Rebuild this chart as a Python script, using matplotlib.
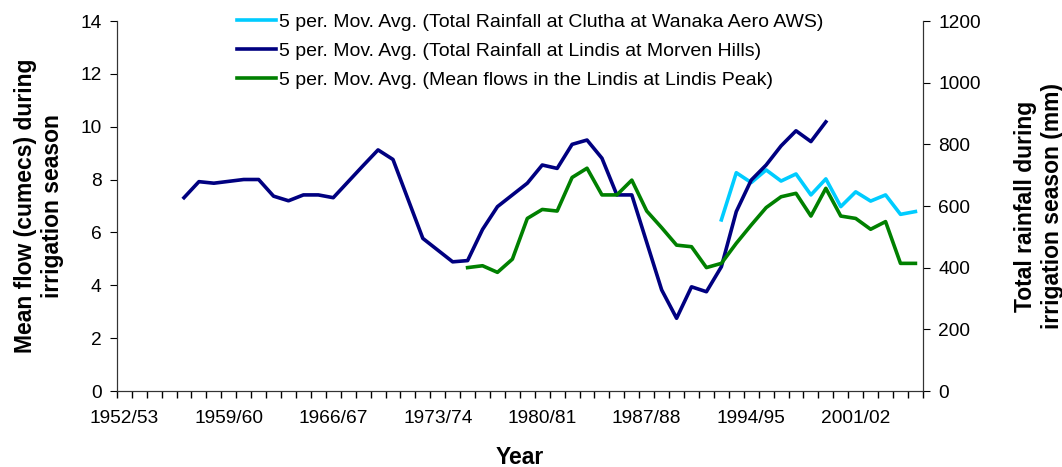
import numpy as np
import matplotlib
matplotlib.use("Agg")
import matplotlib.pyplot as plt

plt.rcParams['font.family'] = ['Liberation Sans', 'DejaVu Sans']

# Seasons on the category axis (1952/53 .. 2005/06)
SEASONS = [f"{y}/{str(y + 1)[-2:]}" for y in range(1952, 2006)]
LABEL_EVERY = 7

# Lindis at Morven Hills rainfall, 5 per. mov. avg (mm) - starts 1956/57
MORVEN_START = 4
MORVEN_RAIN = [627, 679, 674, 680, 686, 686, 632, 617, 636, 636, 627, 679, 731,
               782, 751, 623, 495, 457, 419, 423, 524, 598, 636, 674, 733, 722,
               800, 814, 755, 636, 636, 482, 328, 236, 338, 322, 403, 582, 684,
               733, 795, 844, 809, 873]

# Clutha at Wanaka Aero AWS rainfall, 5 per. mov. avg (mm) - starts 1992/93
WANAKA_START = 40
WANAKA_RAIN = [555, 708, 676, 717, 681, 704, 636, 688, 598, 646, 616, 636, 573, 582]

# Mean flows in the Lindis at Lindis Peak, 5 per. mov. avg (cumecs) - starts 1975/76
LINDIS_START = 23
LINDIS_FLOW = [4.67, 4.74, 4.49, 4.99, 6.53, 6.87, 6.81, 8.08, 8.43, 7.42, 7.42,
               7.98, 6.81, 6.18, 5.52, 5.46, 4.67, 4.83, 5.59, 6.28, 6.94, 7.35,
               7.48, 6.62, 7.67, 6.62, 6.53, 6.12, 6.41, 4.83, 4.83]

FS_TICK = 13.8
FS_LEG = 14
FS_LAB = 16.5

fig = plt.figure(figsize=(10.62, 4.67), dpi=100)
ax = fig.add_axes([0.110, 0.1627, 0.759, 0.7923])
ax2 = ax.twinx()

x_morven = np.arange(MORVEN_START, MORVEN_START + len(MORVEN_RAIN))
x_wanaka = np.arange(WANAKA_START, WANAKA_START + len(WANAKA_RAIN))
x_lindis = np.arange(LINDIS_START, LINDIS_START + len(LINDIS_FLOW))

l1, = ax2.plot(x_wanaka, WANAKA_RAIN, color='#00CCFF', lw=2.6,
               label='5 per. Mov. Avg. (Total Rainfall at Clutha at Wanaka Aero AWS)')
l2, = ax2.plot(x_morven, MORVEN_RAIN, color='#000080', lw=2.6,
               label='5 per. Mov. Avg. (Total Rainfall at Lindis at Morven Hills)')
l3, = ax.plot(x_lindis, LINDIS_FLOW, color='#008000', lw=2.6,
              label='5 per. Mov. Avg. (Mean flows in the Lindis at Lindis Peak)')
ax.set_zorder(ax2.get_zorder() + 1)
ax.patch.set_visible(False)

n = len(SEASONS)
ax.set_xlim(-0.5, n - 0.5)
ax.set_ylim(0, 14)
ax2.set_ylim(0, 1200)
ax.set_yticks(np.arange(0, 15, 2))
ax2.set_yticks(np.arange(0, 1201, 200))

label_pos = np.arange(0, n, LABEL_EVERY)
ax.set_xticks(label_pos)
ax.set_xticklabels([SEASONS[i] for i in label_pos])
ax.set_xticks(np.arange(n + 1) - 0.5, minor=True)
ax.tick_params(axis='x', which='major', length=0, pad=14, labelsize=FS_TICK)
ax.tick_params(axis='x', which='minor', length=5, direction='out', width=1)
ax.tick_params(axis='y', length=5, direction='out', labelsize=FS_TICK, pad=6)
ax2.tick_params(axis='y', length=5, direction='out', labelsize=FS_TICK, pad=6)

for a in (ax, ax2):
    a.spines['top'].set_visible(False)
    for s in ('left', 'right', 'bottom'):
        a.spines[s].set_color('#333333')

ax.set_xlabel('Year', fontsize=FS_LAB, fontweight='bold', labelpad=13)
ax.set_ylabel('Mean flow (cumecs) during\nirrigation season', fontsize=FS_LAB,
              fontweight='bold', labelpad=12)
ax2.set_ylabel('Total rainfall during\nirrigation season (mm)', fontsize=FS_LAB,
               fontweight='bold', labelpad=24)

ax.legend(handles=[l1, l2, l3], loc='upper left', bbox_to_anchor=(0.223, 0.972),
          bbox_transform=fig.transFigure, frameon=False, fontsize=FS_LEG,
          handlelength=2.0, handletextpad=0.15, labelspacing=0.6,
          borderpad=0, borderaxespad=0)

fig.savefig('out.png', dpi=100)
